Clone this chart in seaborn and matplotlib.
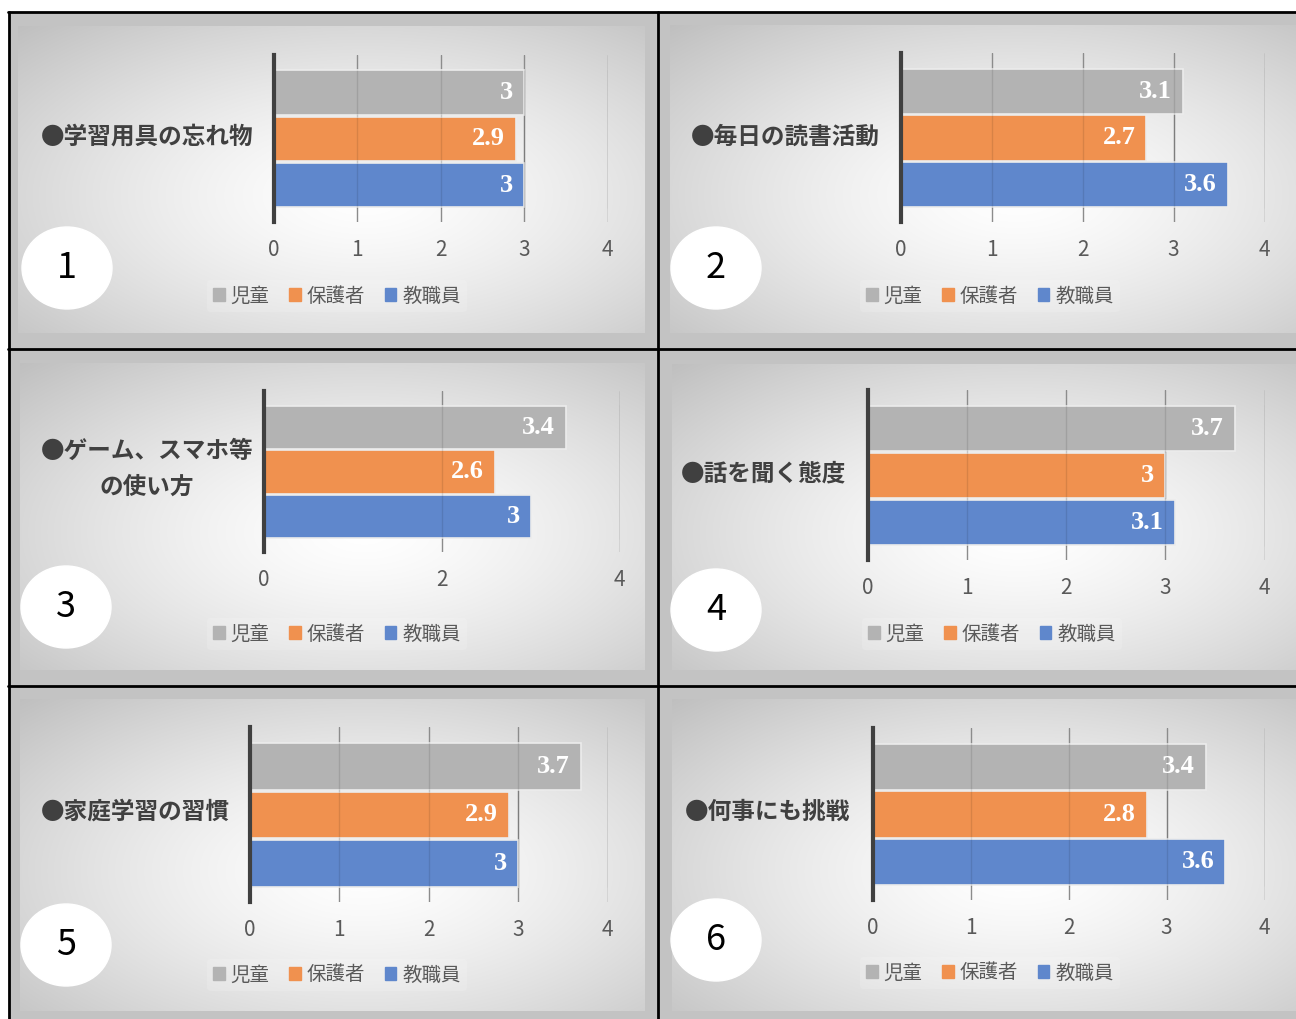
import numpy as np
import pandas as pd
import seaborn as sns
import matplotlib.pyplot as plt
from matplotlib.patches import Rectangle, Ellipse

# ---- data ----
categories = ["●学習用具の忘れ物", "●毎日の読書活動", "●ゲーム、スマホ等\nの使い方",
              "●話を聞く態度", "●家庭学習の習慣", "●何事にも挑戦"]
groups = ["児童", "保護者", "教職員"]
child = [3, 3.1, 3.4, 3.7, 3.7, 3.4]
parent = [2.9, 2.7, 2.6, 3, 2.9, 2.8]
staff = [3, 3.6, 3, 3.1, 3, 3.6]
panel_numbers = ["1", "2", "3", "4", "5", "6"]
xticks = [[0, 1, 2, 3, 4], [0, 1, 2, 3, 4], [0, 2, 4],
          [0, 1, 2, 3, 4], [0, 1, 2, 3, 4], [0, 1, 2, 3, 4]]

colors = ["#b3b3b3", "#f0914f", "#5f87cc"]

sns.set_theme(style="white")
plt.rcParams['font.family'] = ['Noto Sans CJK JP', 'DejaVu Sans']

W, H = 1296, 1019
fig = plt.figure(figsize=(W / 100, H / 100), dpi=100)

# pixel layout of each panel
# ax = (x at 0, x at 4, top, bottom), cell, inner gradient box, circle centre,
# legend centre, category label anchor
layout = [
    dict(ax=(274, 608, 55, 222), cell=(9, 658, 12, 349), inner=(18, 645, 26, 333),
         circ=(67, 268), leg=(337, 296), lab=(253, 137, 'right')),
    dict(ax=(901, 1265, 53, 222), cell=(658, 1300, 12, 349), inner=(670, 1300, 25, 333),
         circ=(716, 268), leg=(990, 296), lab=(880, 137, 'right')),
    dict(ax=(264, 620, 391, 552), cell=(9, 658, 349, 686), inner=(20, 645, 363, 670),
         circ=(66, 607), leg=(337, 634), lab=(147, 469, 'center')),
    dict(ax=(868, 1265, 390, 560), cell=(658, 1300, 349, 686), inner=(672, 1300, 364, 670),
         circ=(716, 610), leg=(992, 634), lab=(846, 473, 'right')),
    dict(ax=(250, 608, 727, 902), cell=(9, 658, 686, 1025), inner=(20, 645, 699, 1011),
         circ=(66, 945), leg=(337, 975), lab=(230, 812, 'right')),
    dict(ax=(873, 1265, 728, 900), cell=(658, 1300, 686, 1025), inner=(672, 1300, 699, 1011),
         circ=(716, 940), leg=(990, 973), lab=(850, 812, 'right')),
]

# ---- background layer in pixel coordinates ----
bg = fig.add_axes([0, 0, 1, 1], zorder=-10)
bg.set_facecolor("white")


def gradient(w, h):
    yy, xx = np.mgrid[0:h, 0:w]
    dx = (xx - 0.55 * w) / (0.55 * w)
    dy = (yy - 0.55 * h) / (0.55 * h)
    d = np.clip(np.sqrt(dx ** 2 + dy ** 2) / np.sqrt(2), 0, 1)
    v = 1 - 0.25 * d ** 1.4
    return np.dstack([v, v, v])


for p in layout:
    cx0, cx1, cy0, cy1 = p['cell']
    bg.add_patch(Rectangle((cx0, cy0), cx1 - cx0, cy1 - cy0, color="#c3c3c3", zorder=0))
    ix0, ix1, iy0, iy1 = p['inner']
    bg.imshow(gradient(ix1 - ix0, iy1 - iy0), extent=(ix0, ix1, iy1, iy0),
              aspect='auto', zorder=1, interpolation='bilinear')

bg.set_xlim(0, W)
bg.set_ylim(H, 0)
bg.axis('off')

# grid borders
for x in [9, 658]:
    bg.plot([x, x], [12, H], color="black", lw=2, zorder=5)
for y in [12, 349, 686]:
    bg.plot([8, W], [y, y], color="black", lw=2, zorder=5)

# ---- panels ----
for i, p in enumerate(layout):
    x0, x4, top, bottom = p['ax']
    ax = fig.add_axes([x0 / W, 1 - bottom / H, (x4 - x0) / W, (bottom - top) / H])
    ax.patch.set_alpha(0)

    vals = [child[i], parent[i], staff[i]]
    df = pd.DataFrame({'group': groups, 'value': vals})
    sns.barplot(data=df, x='value', y='group', hue='group', order=groups,
                hue_order=groups, palette=colors, saturation=1, width=0.97,
                edgecolor="#ececec", linewidth=1.2, legend=False, orient='h',
                ax=ax, zorder=2)

    for j, v in enumerate(vals):
        ax.annotate(f"{v:g}", xy=(v, j), xytext=(-8, 0), textcoords='offset points',
                    ha='right', va='center', color='white', fontsize=19,
                    family='Liberation Serif', fontweight='bold', zorder=4)

    ax.set_xlim(0, 4.005)
    ax.set_ylim(2.8, -0.82)
    ax.set_xticks(xticks[i])
    ax.set_xticklabels([str(t) for t in xticks[i]], fontsize=15, color="#595959")
    ax.tick_params(axis='x', length=0, pad=12)
    ax.set_yticks([])
    ax.set_xlabel("")
    ax.set_ylabel("")
    ax.grid(axis='x', color="#8c8c8c", lw=1, zorder=1)
    ax.grid(axis='y', visible=False)
    # faint gridlines showing through the bars
    ax.vlines(xticks[i][1:], -0.5, 2.5, color="black", alpha=0.1, lw=1, zorder=3)
    for s in ['top', 'right', 'bottom']:
        ax.spines[s].set_visible(False)
    ax.spines['left'].set_color("#404040")
    ax.spines['left'].set_linewidth(3)
    ax.spines['left'].set_zorder(5)

    # legend
    handles = [Rectangle((0, 0), 1, 1, color=c) for c in colors]
    lx, ly = p['leg']
    leg = fig.legend(handles, groups, loc='center', bbox_to_anchor=(lx / W, 1 - ly / H),
                     ncol=3, fontsize=14, frameon=True, handlelength=0.6,
                     handleheight=0.6, handletextpad=0.3, columnspacing=1.0,
                     borderpad=0.3, labelcolor="#595959")
    leg.get_frame().set_facecolor("white")
    leg.get_frame().set_alpha(0.15)
    leg.get_frame().set_edgecolor("none")

    # category label
    tx, ty, ha = p['lab']
    bg.text(tx, ty, categories[i], ha=ha, va='center', fontsize=17, fontweight='bold',
            color="#404040", linespacing=1.6, zorder=6)

    # numbered circle
    ccx, ccy = p['circ']
    bg.add_patch(Ellipse((ccx, ccy), 90, 82, color='white', zorder=6))
    bg.text(ccx, ccy, panel_numbers[i], ha='center', va='center', fontsize=26,
            color='black', zorder=7)

fig.savefig("out.png", dpi=100)
